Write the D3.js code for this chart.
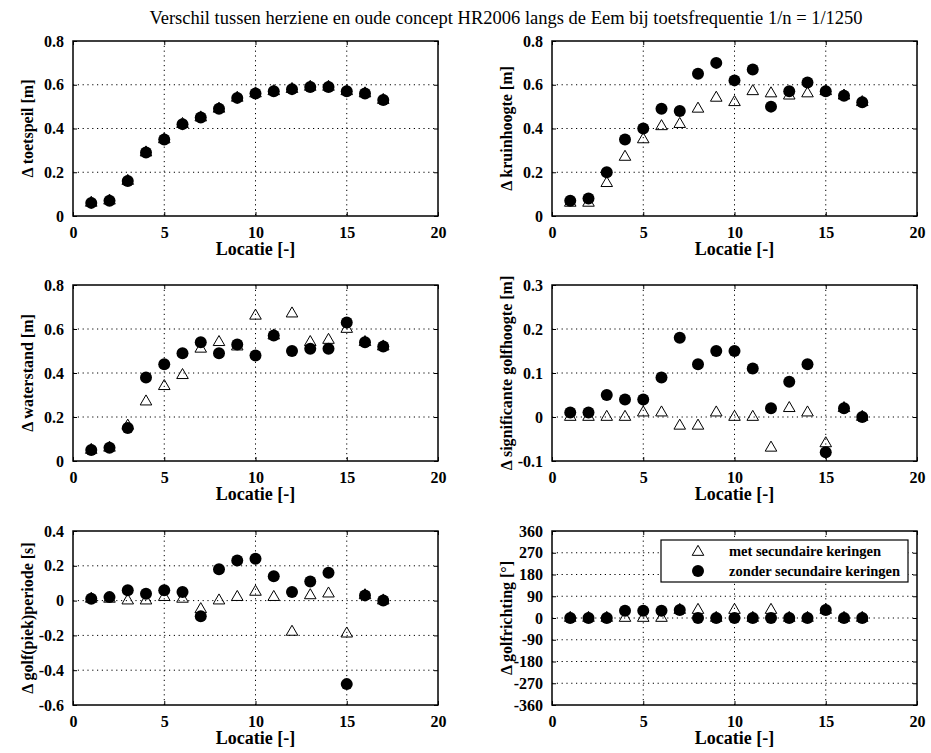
<!DOCTYPE html>
<html>
<head>
<meta charset="utf-8">
<script src="https://cdn.jsdelivr.net/npm/d3@7"></script>
<style>
  html, body { margin: 0; padding: 0; background: #fff; }
  svg { display: block; }
  text { font-family: "Liberation Serif", "Times New Roman", serif; fill: #000; }
</style>
</head>
<body>
<svg id="chart" width="931" height="753"></svg>
<script>
// ---------------- DATA ----------------
const locaties = [1,2,3,4,5,6,7,8,9,10,11,12,13,14,15,16,17];

const toetspeilMet    = [0.06,0.07,0.16,0.29,0.35,0.42,0.45,0.49,0.54,0.56,0.57,0.58,0.59,0.59,0.57,0.56,0.53];
const toetspeilZonder = [0.06,0.07,0.16,0.29,0.35,0.42,0.45,0.49,0.54,0.56,0.57,0.58,0.59,0.59,0.57,0.56,0.53];

const kruinMet    = [0.06,0.06,0.15,0.27,0.35,0.41,0.42,0.49,0.54,0.52,0.57,0.56,0.55,0.56,0.57,0.55,0.52];
const kruinZonder = [0.07,0.08,0.20,0.35,0.40,0.49,0.48,0.65,0.70,0.62,0.67,0.50,0.57,0.61,0.57,0.55,0.52];

const waterMet    = [0.05,0.06,0.16,0.27,0.34,0.39,0.51,0.54,0.52,0.66,0.57,0.67,0.54,0.55,0.60,0.54,0.52];
const waterZonder = [0.05,0.06,0.15,0.38,0.44,0.49,0.54,0.49,0.53,0.48,0.57,0.50,0.51,0.51,0.63,0.54,0.52];

const golfhoogteMet    = [0,0,0,0,0.01,0.01,-0.02,-0.02,0.01,0,0,-0.07,0.02,0.01,-0.06,0.02,0];
const golfhoogteZonder = [0.01,0.01,0.05,0.04,0.04,0.09,0.18,0.12,0.15,0.15,0.11,0.02,0.08,0.12,-0.08,0.02,0];

const periodeMet    = [0.01,0.01,0,0,0.02,0.01,-0.05,0,0.02,0.05,0.02,-0.18,0.03,0.04,-0.19,0.03,0];
const periodeZonder = [0.01,0.02,0.06,0.04,0.06,0.05,-0.09,0.18,0.23,0.24,0.14,0.05,0.11,0.16,-0.48,0.03,0];

const richtingMet    = [0,0,0,0,0,0,33,33,0,33,0,33,0,0,33,0,0];
const richtingZonder = [0,0,0,30,30,30,33,0,0,0,0,0,0,0,33,0,0];

const xTicks = [0,5,10,15,20];
const yTicksM = [0,0.2,0.4,0.6,0.8];
const yTicksHs = [-0.1,0,0.1,0.2,0.3];
const yTicksTp = [-0.6,-0.4,-0.2,0,0.2,0.4];
const yTicksDir = [-360,-270,-180,-90,0,90,180,270,360];

const titleText = "Verschil tussen herziene en oude concept HR2006 langs de Eem bij toetsfrequentie 1/n = 1/1250";
const xLabel = "Locatie [-]";
const legendLabels = ["met secundaire keringen", "zonder secundaire keringen"];

const panels = [
  {label:"Δ toetspeil [m]", met:toetspeilMet, zonder:toetspeilZonder, ticks:yTicksM, dec:1},
  {label:"Δ kruinhoogte [m]", met:kruinMet, zonder:kruinZonder, ticks:yTicksM, dec:1},
  {label:"Δ waterstand [m]", met:waterMet, zonder:waterZonder, ticks:yTicksM, dec:1},
  {label:"Δ significante golfhoogte [m]", met:golfhoogteMet, zonder:golfhoogteZonder, ticks:yTicksHs, dec:1},
  {label:"Δ golf(piek)periode [s]", met:periodeMet, zonder:periodeZonder, ticks:yTicksTp, dec:1},
  {label:"Δ golfrichting [°]", met:richtingMet, zonder:richtingZonder, ticks:yTicksDir, dec:0, legend:true}
];

// ---------------- LAYOUT ----------------
const colX = [[73,438],[552,917]];
const rowY = [[41,216],[285,461],[531,705]];
const svg = d3.select("#chart");
const FONT = '"Liberation Serif", "Times New Roman", serif';

svg.append("text")
  .attr("x", 506).attr("y", 24)
  .attr("text-anchor","middle")
  .style("font-size","18.5px")
  .text(titleText);

function fmt(v, dec){
  if (Math.abs(v) < 1e-9) return "0";
  const s = dec === 0 ? String(Math.round(v)) : v.toFixed(dec);
  return s.replace("\u2212","-");
}

panels.forEach((p, i) => {
  const col = i % 2, row = Math.floor(i / 2);
  const [x0,x1] = colX[col], [y0,y1] = rowY[row];
  const x = d3.scaleLinear().domain([0,20]).range([x0,x1]);
  const y = d3.scaleLinear().domain([p.ticks[0], p.ticks[p.ticks.length-1]]).range([y1,y0]);
  const g = svg.append("g");

  // grid
  const grid = g.append("g").attr("stroke","#000").attr("stroke-width",1)
    .attr("stroke-dasharray","1.2,3.6");
  xTicks.slice(1,-1).forEach(t => {
    grid.append("line").attr("x1",x(t)).attr("x2",x(t)).attr("y1",y0).attr("y2",y1);
  });
  p.ticks.slice(1,-1).forEach(t => {
    grid.append("line").attr("x1",x0).attr("x2",x1).attr("y1",y(t)).attr("y2",y(t));
  });

  // axes via d3 axis (inward ticks)
  const xAxis = d3.axisBottom(x).tickValues(xTicks).tickSizeInner(-4).tickSizeOuter(0).tickPadding(10).tickFormat(d => String(d));
  const gx = g.append("g").attr("transform",`translate(0,${y1})`).call(xAxis);
  gx.select(".domain").remove();
  gx.selectAll("line").attr("stroke","#000");
  gx.selectAll("text").attr("font-family",FONT).style("font-size","16px").style("font-weight","bold")
    .attr("dy","0.72em");

  const xAxisTop = d3.axisTop(x).tickValues(xTicks).tickSizeInner(-4).tickSizeOuter(0).tickFormat("");
  const gxt = g.append("g").attr("transform",`translate(0,${y0})`).call(xAxisTop);
  gxt.select(".domain").remove();
  gxt.selectAll("line").attr("stroke","#000");

  const yAxis = d3.axisLeft(y).tickValues(p.ticks).tickSizeInner(-4).tickSizeOuter(0).tickPadding(9).tickFormat(d => fmt(d,p.dec));
  const gy = g.append("g").attr("transform",`translate(${x0},0)`).call(yAxis);
  gy.select(".domain").remove();
  gy.selectAll("line").attr("stroke","#000");
  gy.selectAll("text").attr("font-family",FONT).style("font-size","16px").style("font-weight","bold");

  const yAxisR = d3.axisRight(y).tickValues(p.ticks).tickSizeInner(-4).tickSizeOuter(0).tickFormat("");
  const gyr = g.append("g").attr("transform",`translate(${x1},0)`).call(yAxisR);
  gyr.select(".domain").remove();
  gyr.selectAll("line").attr("stroke","#000");

  // box
  g.append("rect").attr("x",x0).attr("y",y0).attr("width",x1-x0).attr("height",y1-y0)
    .attr("fill","none").attr("stroke","#000").attr("stroke-width",1.5);

  // labels
  g.append("text").attr("x",(x0+x1)/2).attr("y",y1+39).attr("text-anchor","middle")
    .style("font-size","18px").style("font-weight","bold").text(xLabel);
  g.append("text").attr("transform",`translate(${x0-46},${(y0+y1)/2}) rotate(-90)`)
    .attr("text-anchor","middle").attr("dy","0.35em")
    .style("font-size","16px").style("font-weight","bold").text(p.label);

  // markers: triangles then circles
  const tri = d3.symbol().type(d3.symbolTriangle).size(58);
  g.append("g").selectAll("path").data(locaties.map((l,k)=>[l,p.met[k]])).join("path")
    .attr("d",tri).attr("transform",d=>`translate(${x(d[0])},${y(d[1])})`)
    .attr("fill","none").attr("stroke","#000").attr("stroke-width",1);
  g.append("g").selectAll("circle").data(locaties.map((l,k)=>[l,p.zonder[k]])).join("circle")
    .attr("cx",d=>x(d[0])).attr("cy",d=>y(d[1])).attr("r",6).attr("fill","#000");

  if (p.legend) {
    const lx0 = 661, ly0 = 540, lw = 247, lh = 42;
    g.append("rect").attr("x",lx0).attr("y",ly0).attr("width",lw).attr("height",lh)
      .attr("fill","#fff").attr("stroke","#000").attr("stroke-width",1.2);
    g.append("path").attr("d",tri).attr("transform",`translate(698,${552})`)
      .attr("fill","none").attr("stroke","#000");
    g.append("circle").attr("cx",698).attr("cy",571).attr("r",6).attr("fill","#000");
    g.append("text").attr("x",729).attr("y",556).style("font-size","14.5px").style("font-weight","bold").text(legendLabels[0]);
    g.append("text").attr("x",729).attr("y",576).style("font-size","14.5px").style("font-weight","bold").text(legendLabels[1]);
  }
});
</script>
</body>
</html>
